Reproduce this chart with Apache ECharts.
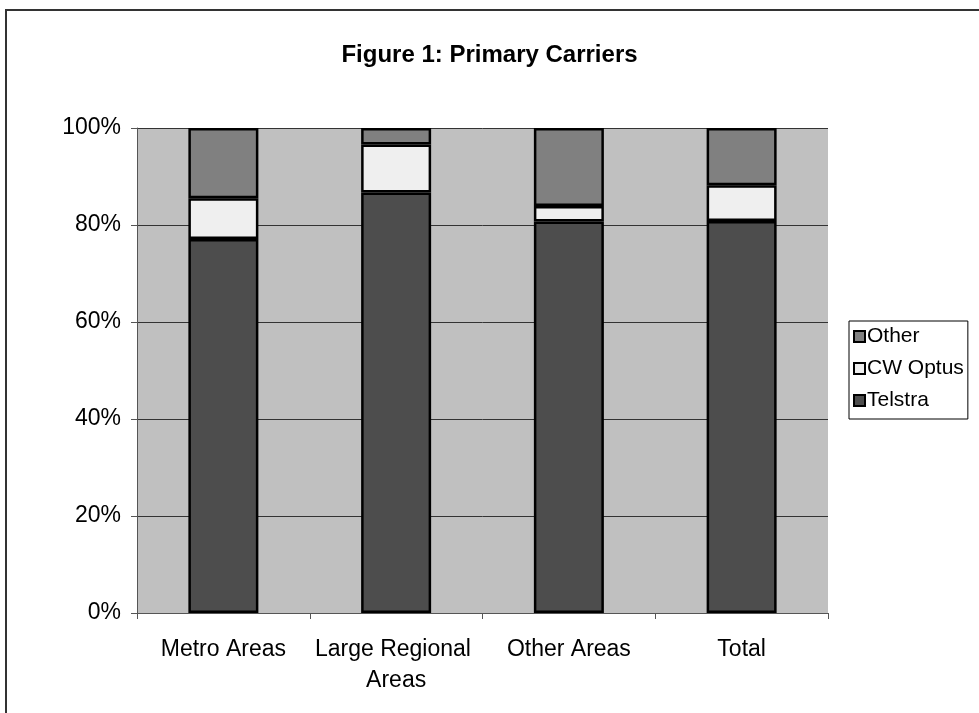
<!DOCTYPE html>
<html>
<head>
<meta charset="utf-8">
<script src="https://cdn.jsdelivr.net/npm/echarts@6/dist/echarts.min.js"></script>
<style>
html,body{margin:0;padding:0;background:#fff;}
#chart{width:979px;height:713px;}
</style>
</head>
<body>
<div id="chart"></div>
<script>
const categories = ["Metro Areas", "Large Regional Areas", "Other Areas", "Total"];
const telstra = [77.1, 86.7, 80.7, 80.8];
const cwOptus = [8.4, 9.9, 3.2, 7.4];
const other = [14.5, 3.4, 16.1, 11.8];
const yTicks = [0, 20, 40, 60, 80, 100];

const chart = echarts.init(document.getElementById('chart'), null, {renderer: 'canvas'});
const font = "'Liberation Sans', Arial, sans-serif";
const barStyle = (color) => ({color: color, borderColor: '#000', borderWidth: 2.5});

chart.setOption({
  animation: false,
  backgroundColor: '#fff',
  textStyle: {fontFamily: font},
  title: {
    text: 'Figure 1: Primary Carriers',
    left: 'center',
    top: 38,
    textStyle: {fontFamily: font, fontSize: 24, fontWeight: 'bold', color: '#000'}
  },
  graphic: [
    {type: 'line', shape: {x1: 5, y1: 10, x2: 979, y2: 10}, style: {stroke: '#333', lineWidth: 2}},
    {type: 'line', shape: {x1: 6, y1: 10, x2: 6, y2: 713}, style: {stroke: '#333', lineWidth: 2}}
  ],
  legend: {
    orient: 'vertical',
    left: 849,
    top: 321,
    data: ['Other', 'CW Optus', 'Telstra'],
    itemWidth: 11,
    itemHeight: 11,
    itemGap: 11,
    padding: [5, 4, 8, 4],
    borderColor: '#000',
    borderWidth: 1,
    backgroundColor: '#fff',
    borderRadius: 0,
    textStyle: {fontFamily: font, fontSize: 21, color: '#000', padding: [0, 0, 0, -3]},
    icon: 'rect'
  },
  grid: {left: 137, right: 151, top: 128, bottom: 100, show: true, backgroundColor: '#C0C0C0', borderWidth: 0},
  xAxis: {
    type: 'category',
    data: categories,
    axisLine: {lineStyle: {color: '#555', width: 1}},
    axisTick: {show: true, length: 6, lineStyle: {color: '#555'}},
    axisLabel: {
      fontFamily: font, fontSize: 23, color: '#000', margin: 21,
      width: 172, overflow: 'break', lineHeight: 31, interval: 0
    }
  },
  yAxis: {
    type: 'value',
    min: yTicks[0],
    max: yTicks[yTicks.length - 1],
    interval: 20,
    axisLine: {show: true, lineStyle: {color: '#555', width: 1}},
    axisTick: {show: true, length: 6, lineStyle: {color: '#555'}},
    splitLine: {show: true, lineStyle: {color: '#333', width: 1}},
    axisLabel: {fontFamily: font, fontSize: 23, color: '#000', margin: 16, formatter: '{value}%'}
  },
  series: [
    {name: 'Telstra', type: 'bar', stack: 'a', data: telstra, barWidth: 70, itemStyle: barStyle('#4D4D4D')},
    {name: 'CW Optus', type: 'bar', stack: 'a', data: cwOptus, barWidth: 70, itemStyle: barStyle('#EFEFEF')},
    {name: 'Other', type: 'bar', stack: 'a', data: other, barWidth: 70, itemStyle: barStyle('#808080')}
  ]
});
</script>
</body>
</html>
